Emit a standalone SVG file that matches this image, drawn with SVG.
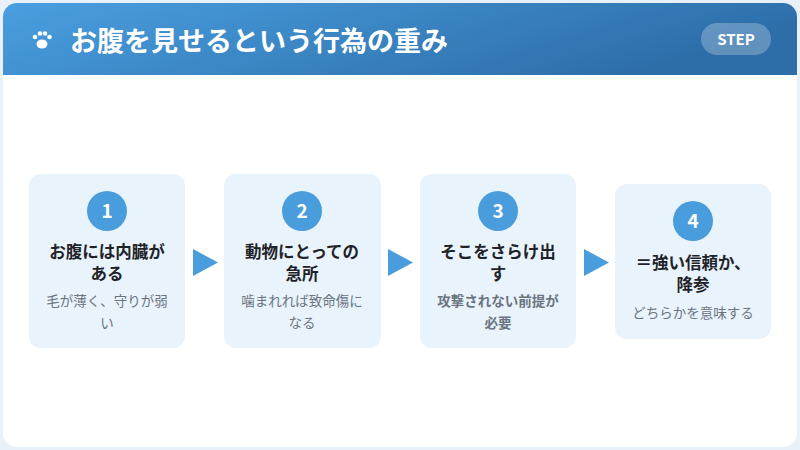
<svg xmlns="http://www.w3.org/2000/svg" width="800" height="450" viewBox="0 0 800 450">
<defs>
<linearGradient id="hg" x1="0" y1="0" x2="1" y2="0.3"><stop offset="0" stop-color="#4a9fe0"/><stop offset="1" stop-color="#2d6ea9"/></linearGradient>
<clipPath id="cp"><rect x="3" y="3" width="794" height="444" rx="14"/></clipPath>
<style>
text{font-family:"Noto Sans CJK JP","Noto Sans",sans-serif;text-anchor:middle}
.card{fill:#e8f3fc}
.num{fill:#4a9ddc}
.nt{fill:#fff;font-size:19px;font-weight:700}
.t{fill:#1f2328;font-size:16.5px;font-weight:700}
.s{fill:#6b7480;font-size:13.5px}
.arr{fill:#4a9ddc}
</style>
</defs>
<rect x="0" y="0" width="800" height="450" fill="#e9f1f8"/>
<rect x="3" y="3" width="794" height="444" rx="14" fill="#fff"/>
<rect x="3" y="3" width="794" height="72" fill="url(#hg)" clip-path="url(#cp)"/>
<g id="header">
<g fill="#fff"><ellipse cx="42" cy="44" rx="5.5" ry="4.5"/><circle cx="35" cy="37" r="2.3"/><circle cx="40" cy="33.5" r="2.3"/><circle cx="45" cy="33.5" r="2.3"/><circle cx="49.5" cy="37" r="2.3"/></g>
<text x="70" y="51" style="text-anchor:start;font-size:27px;font-weight:700" fill="#fff">お腹を見せるという行為の重み</text>
<rect x="701" y="23" width="70" height="32" rx="16" fill="#fff" fill-opacity="0.25"/>
<text x="736" y="45" style="font-size:15px;font-weight:700" fill="#fff">STEP</text>
</g>
<g id="step1"><rect class="card" x="29" y="174" width="156" height="174" rx="12"/><circle class="num" cx="107" cy="211" r="20"/><text class="nt" x="107" y="218">1</text><text class="t" x="107" y="258">お腹には内臓が</text><text class="t" x="107" y="280">ある</text><text class="s" x="107" y="306">毛が薄く、守りが弱</text><text class="s" x="107" y="328">い</text></g>
<g id="step2"><rect class="card" x="224" y="174" width="157" height="174" rx="12"/><circle class="num" cx="302" cy="211" r="20"/><text class="nt" x="302" y="218">2</text><text class="t" x="302" y="258">動物にとっての</text><text class="t" x="302" y="280">急所</text><text class="s" x="302" y="306">噛まれれば致命傷に</text><text class="s" x="302" y="328">なる</text></g>
<g id="step3"><rect class="card" x="420" y="174" width="156" height="174" rx="12"/><circle class="num" cx="498" cy="211" r="20"/><text class="nt" x="498" y="218">3</text><text class="t" x="498" y="258">そこをさらけ出</text><text class="t" x="498" y="280">す</text><text class="s" x="498" y="306" style="font-weight:700">攻撃されない前提が</text><text class="s" x="498" y="328" style="font-weight:700">必要</text></g>
<g id="step4"><rect class="card" x="615" y="184" width="156" height="155" rx="12"/><circle class="num" cx="693" cy="221" r="20"/><text class="nt" x="693" y="228">4</text><text class="t" x="693" y="269">＝強い信頼か、</text><text class="t" x="693" y="291">降参</text><text class="s" x="693" y="318">どちらかを意味する</text></g>
<g id="connectors"><polygon class="arr" points="193,249 218,262.5 193,276"/><polygon class="arr" points="388,249 413,262.5 388,276"/><polygon class="arr" points="584,249 609,262.5 584,276"/></g>
</svg>
